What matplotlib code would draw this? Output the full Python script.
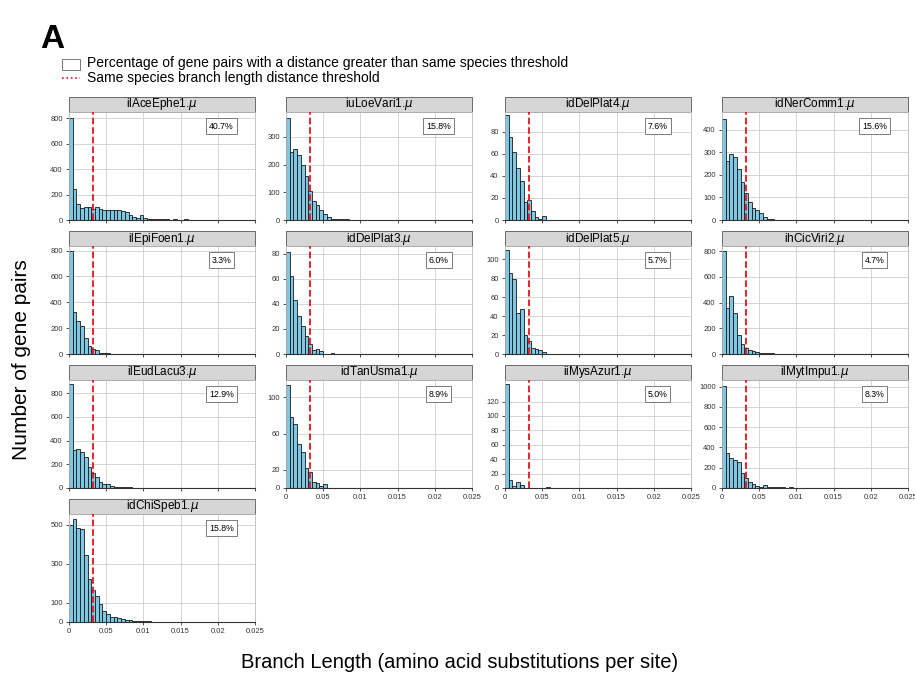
import matplotlib
matplotlib.use('Agg')
import matplotlib.pyplot as plt
from matplotlib.patches import Rectangle
from matplotlib.lines import Line2D
import numpy as np

plt.rcParams['font.family'] = ['Liberation Sans', 'DejaVu Sans']

# histogram setup (bins of 0.0005 starting at 0)
bin_width = 0.0005
threshold = 0.0032
xtick_pos = [0, 0.005, 0.01, 0.015, 0.02, 0.025]
xtick_labels = ['0', '0.05', '0.01', '0.015', '0.02', '0.025']

species = ['ilAceEphe1', 'iuLoeVari1', 'idDelPlat4', 'idNerComm1',
           'ilEpiFoen1', 'idDelPlat3', 'idDelPlat5', 'ihCicViri2',
           'ilEudLacu3', 'idTanUsma1', 'iiMysAzur1', 'ilMytImpu1',
           'idChiSpeb1']
percent = ['40.7%', '15.8%', '7.6%', '15.6%', '3.3%', '6.0%', '5.7%',
           '4.7%', '12.9%', '8.9%', '5.0%', '8.3%', '15.8%']

# bar heights per bin
ilAceEphe1 = [805, 245, 125, 95, 100, 100, 85, 100, 85, 78, 75, 75, 80, 78, 72,
              60, 40, 25, 15, 40, 15, 10, 8, 6, 5, 8, 4, 3, 5, 3, 2, 4, 2, 3,
              2, 1, 2, 1, 1]
iuLoeVari1 = [370, 245, 255, 235, 200, 160, 105, 70, 55, 35, 20, 10, 5, 3, 3,
              2, 2, 1, 1]
idDelPlat4 = [95, 75, 62, 47, 35, 16, 18, 8, 3, 1, 4]
idNerComm1 = [445, 260, 290, 280, 225, 170, 120, 80, 55, 45, 30, 12, 5, 3, 2,
              2, 1, 1]
ilEpiFoen1 = [795, 325, 255, 215, 125, 65, 40, 30, 10, 5, 5, 2]
idDelPlat3 = [81, 62, 43, 30, 22, 14, 8, 3, 4, 2, 0, 0, 1]
idDelPlat5 = [110, 86, 79, 43, 47, 20, 14, 6, 5, 4, 2]
ihCicViri2 = [800, 355, 455, 320, 145, 80, 50, 35, 22, 15, 10, 8, 5, 4, 3, 2,
              2, 1]
ilEudLacu3 = [880, 320, 325, 305, 260, 175, 125, 90, 50, 30, 35, 15, 10, 10, 8,
              5, 5, 3, 3, 2, 2, 1, 1]
idTanUsma1 = [114, 78, 71, 48, 40, 22, 18, 7, 6, 2, 4]
iiMysAzur1 = [144, 11, 3, 8, 4, 0, 0, 0, 0, 0, 0, 2]
ilMytImpu1 = [1005, 345, 300, 280, 255, 150, 100, 60, 40, 20, 12, 25, 10, 8, 8,
              5, 5, 3, 5, 3, 2, 1]
idChiSpeb1 = [497, 530, 485, 477, 343, 223, 162, 133, 90, 55, 40, 28, 25, 20,
              15, 10, 8, 6, 5, 4, 3, 3, 2, 2, 2, 1, 1, 1, 1, 1, 1, 1, 1, 1, 1, 1]

counts = [ilAceEphe1, iuLoeVari1, idDelPlat4, idNerComm1, ilEpiFoen1,
          idDelPlat3, idDelPlat5, ihCicViri2, ilEudLacu3, idTanUsma1,
          iiMysAzur1, ilMytImpu1, idChiSpeb1]

yticks = [[0, 200, 400, 600, 800], [0, 100, 200, 300], [0, 20, 40, 60, 80],
          [0, 100, 200, 300, 400], [0, 200, 400, 600, 800], [0, 20, 40, 60, 80],
          [0, 20, 40, 60, 80, 100], [0, 200, 400, 600, 800],
          [0, 200, 400, 600, 800], [0, 20, 60, 100], [0, 20, 40, 60, 80, 100, 120],
          [0, 200, 400, 600, 800, 1000], [0, 100, 300, 500]]
ytops = [850, 390, 98, 478, 835, 86, 114, 840, 910, 119, 150, 1065, 555]

W, H = 915, 677
fig = plt.figure(figsize=(W / 100, H / 100), dpi=100)


def px_box(left, top, w, h):
    return [left / W, 1 - (top + h) / H, w / W, h / H]


col_left = [69, 286, 505, 722]
row_top = [112, 246, 380, 514]
ax_w, ax_h, strip_h = 186, 108, 15

for i, name in enumerate(species):
    r, c = divmod(i, 4)
    ax = fig.add_axes(px_box(col_left[c], row_top[r], ax_w, ax_h))
    h = counts[i]
    edges = np.arange(len(h)) * bin_width
    ax.bar(edges, h, width=bin_width, align='edge', color='#7EC8E3',
           edgecolor='#1a1a1a', linewidth=0.6, zorder=2)
    ax.axvline(threshold, color='#e8141c', linestyle='--', linewidth=1.3, zorder=3)
    ax.set_xlim(0, 0.025)
    ax.set_ylim(0, ytops[i])
    ax.set_yticks(yticks[i])
    ax.set_xticks(xtick_pos)
    ax.grid(True, color='#cfcfcf', linewidth=0.6, zorder=0)
    ax.set_axisbelow(True)
    bottom = (r == 3) or (r == 2 and c > 0)
    if bottom:
        ax.set_xticklabels(xtick_labels)
    else:
        ax.set_xticklabels([])
    ax.tick_params(labelsize=5.5, length=2.5, width=0.6, pad=2,
                   colors='#333333')
    for s in ['left', 'top', 'right']:
        ax.spines[s].set_color('#bbbbbb')
        ax.spines[s].set_linewidth(0.6)
    ax.spines['bottom'].set_color('#333333')
    ax.spines['bottom'].set_linewidth(0.8)

    # facet strip
    ax.add_patch(Rectangle((0, 1), 1, strip_h / ax_h, transform=ax.transAxes,
                           clip_on=False, facecolor='#d6d6d6',
                           edgecolor='#555555', linewidth=0.6))
    ax.text(0.5, 1 + strip_h / ax_h / 2, name + r'.$\mu$', transform=ax.transAxes,
            ha='center', va='center', fontsize=8.5)

    ax.text(0.82, 0.87, percent[i], transform=ax.transAxes, fontsize=6.3,
            ha='center', va='center', zorder=5,
            bbox=dict(boxstyle='square,pad=0.35', fc='white', ec='#666666', lw=0.6))

# legend drawn by hand at the top
fig.add_artist(Rectangle((62 / W, 1 - 70 / H), 18 / W, 11 / H,
                         transform=fig.transFigure, facecolor='white',
                         edgecolor='#777777', linewidth=0.7))
fig.add_artist(Line2D([62 / W, 80 / W], [1 - 78 / H, 1 - 78 / H],
                      transform=fig.transFigure, color='#e8141c',
                      linestyle=':', linewidth=1.2))
fig.text(87 / W, 1 - 63 / H,
         'Percentage of gene pairs with a distance greater than same species threshold',
         fontsize=10, va='center')
fig.text(87 / W, 1 - 78 / H, 'Same species branch length distance threshold',
         fontsize=10, va='center')

fig.text(40 / W, 1 - 40 / H, 'A', fontsize=24, fontweight='bold', va='center')
fig.text(22 / W, 1 - 360 / H, 'Number of gene pairs', rotation=90,
         fontsize=15, ha='center', va='center')
fig.text(460 / W, 1 - 662 / H, 'Branch Length (amino acid substitutions per site)',
         fontsize=14.5, ha='center', va='center')

fig.savefig('out.png', dpi=100)
